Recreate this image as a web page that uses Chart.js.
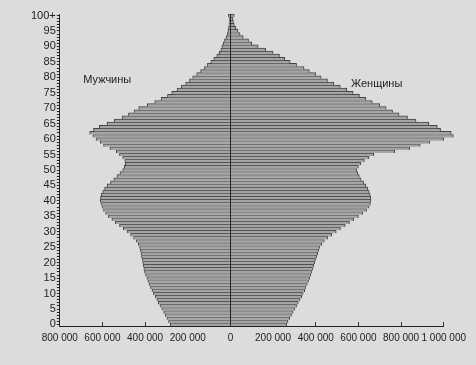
<!DOCTYPE html>
<html>
<head>
<meta charset="utf-8">
<script src="https://cdn.jsdelivr.net/npm/chart.js@4"></script>
<style>
  html, body { margin: 0; padding: 0; background: #dcdcdc; }
  #wrap { width: 476px; height: 365px; position: relative; }
</style>
</head>
<body>
<div id="wrap"><canvas id="pyramid"></canvas></div>
<script>
// возраст 0..100+
const ages = [];
for (let i = 0; i < 100; i++) ages.push(String(i));
ages.push('100+');

// мужчины, человек (по возрастам 0..100+)
const men = [
  282, 290, 298, 305, 313, 322, 330, 338, 345, 353,
  361, 368, 375, 381, 387, 392, 398, 403, 406, 409,
  411, 414, 417, 420, 423, 426, 432, 442, 454, 468,
  485, 502, 520, 540, 556, 572, 585, 595, 602, 607,
  610, 609, 605, 598, 590, 578, 562, 547, 532, 518,
  505, 498, 493, 495, 505, 520, 535, 565, 595, 610,
  630, 645, 660, 642, 615, 578, 545, 508, 478, 452,
  430, 390, 355, 325, 295, 275, 250, 230, 210, 192,
  177, 158, 140, 122, 108, 92, 78, 64, 52, 45,
  40, 34, 28, 20, 15, 12, 9, 7, 6, 5,
  10
].map(v => v * 1000);

// женщины
const women = [
  264, 270, 278, 286, 294, 302, 310, 318, 326, 334,
  341, 348, 354, 360, 366, 372, 377, 382, 387, 391,
  395, 399, 404, 409, 414, 419, 428, 440, 456, 475,
  496, 516, 538, 558, 578, 600, 620, 638, 650, 656,
  659, 658, 655, 650, 643, 635, 624, 612, 604, 597,
  592, 600, 612, 628, 650, 672, 770, 840, 890, 935,
  1000, 1045, 1035, 985, 970, 930, 870, 830, 790, 760,
  730, 700, 665, 635, 605, 575, 545, 515, 485, 455,
  425, 400, 370, 345, 310, 280, 255, 230, 200, 165,
  130, 100, 85, 60, 45, 35, 25, 18, 14, 12,
  18
].map(v => v * 1000);

const xTicks = [-800000, -600000, -400000, -200000, 0, 200000, 400000, 600000, 800000, 1000000];

function fmt(v) {
  return String(Math.abs(v)).replace(/\B(?=(\d{3})+(?!\d))/g, ' ');
}

// подписи "Мужчины" / "Женщины"
const sideLabels = {
  id: 'sideLabels',
  afterDraw(chart) {
    const { ctx, scales } = chart;
    ctx.save();
    ctx.font = '11px "Liberation Sans", Arial, sans-serif';
    ctx.fillStyle = '#222';
    ctx.textBaseline = 'middle';
    ctx.fillText('Мужчины', scales.x.getPixelForValue(-690000), scales.y.getPixelForValue(79));
    ctx.fillText('Женщины', scales.x.getPixelForValue(565000), scales.y.getPixelForValue(78));
    ctx.restore();
  }
};

const barStyle = {
  backgroundColor: '#a4a4a4',
  borderColor: '#444',
  borderWidth: { top: 1, bottom: 0, left: 1, right: 1 },
  barPercentage: 1,
  categoryPercentage: 1,
  clip: false
};

const ctx = document.getElementById('pyramid').getContext('2d');
const pyramid = new Chart(ctx, {
  type: 'bar',
  data: {
    labels: ages,
    datasets: [
      Object.assign({ label: 'Мужчины', data: men.map(v => -v) }, barStyle),
      Object.assign({ label: 'Женщины', data: women }, barStyle)
    ]
  },
  options: {
    indexAxis: 'y',
    responsive: true,
    maintainAspectRatio: false,
    animation: false,
    layout: { padding: { left: 30, right: 30, top: 14, bottom: 11 } },
    plugins: {
      legend: { display: false },
      tooltip: { enabled: false }
    },
    scales: {
      x: {
        stacked: true,
        min: -800000,
        max: 1000000,
        z: 1,
        afterBuildTicks: axis => { axis.ticks = xTicks.map(v => ({ value: v })); },
        grid: {
          color: c => (c.tick && c.tick.value === 0 ? '#222' : 'rgba(0,0,0,0)'),
          tickColor: '#333',
          tickLength: -4,
          lineWidth: 1
        },
        border: { color: '#222', width: 1 },
        ticks: {
          autoSkip: false,
          callback: v => fmt(v),
          color: '#222',
          padding: 10,
          maxRotation: 0,
          font: { family: '"Liberation Sans", Arial, sans-serif', size: 10 }
        }
      },
      y: {
        stacked: true,
        reverse: true,
        grid: {
          offset: false,
          drawOnChartArea: false,
          tickColor: '#333',
          tickLength: 3
        },
        border: { color: '#222', width: 1 },
        ticks: {
          autoSkip: false,
          padding: 1,
          color: '#222',
          font: { family: '"Liberation Sans", Arial, sans-serif', size: 11 },
          callback: function (value, index) {
            return index % 5 === 0 ? this.getLabelForValue(value) : '';
          }
        }
      }
    }
  },
  plugins: [sideLabels]
});
</script>
</body>
</html>
